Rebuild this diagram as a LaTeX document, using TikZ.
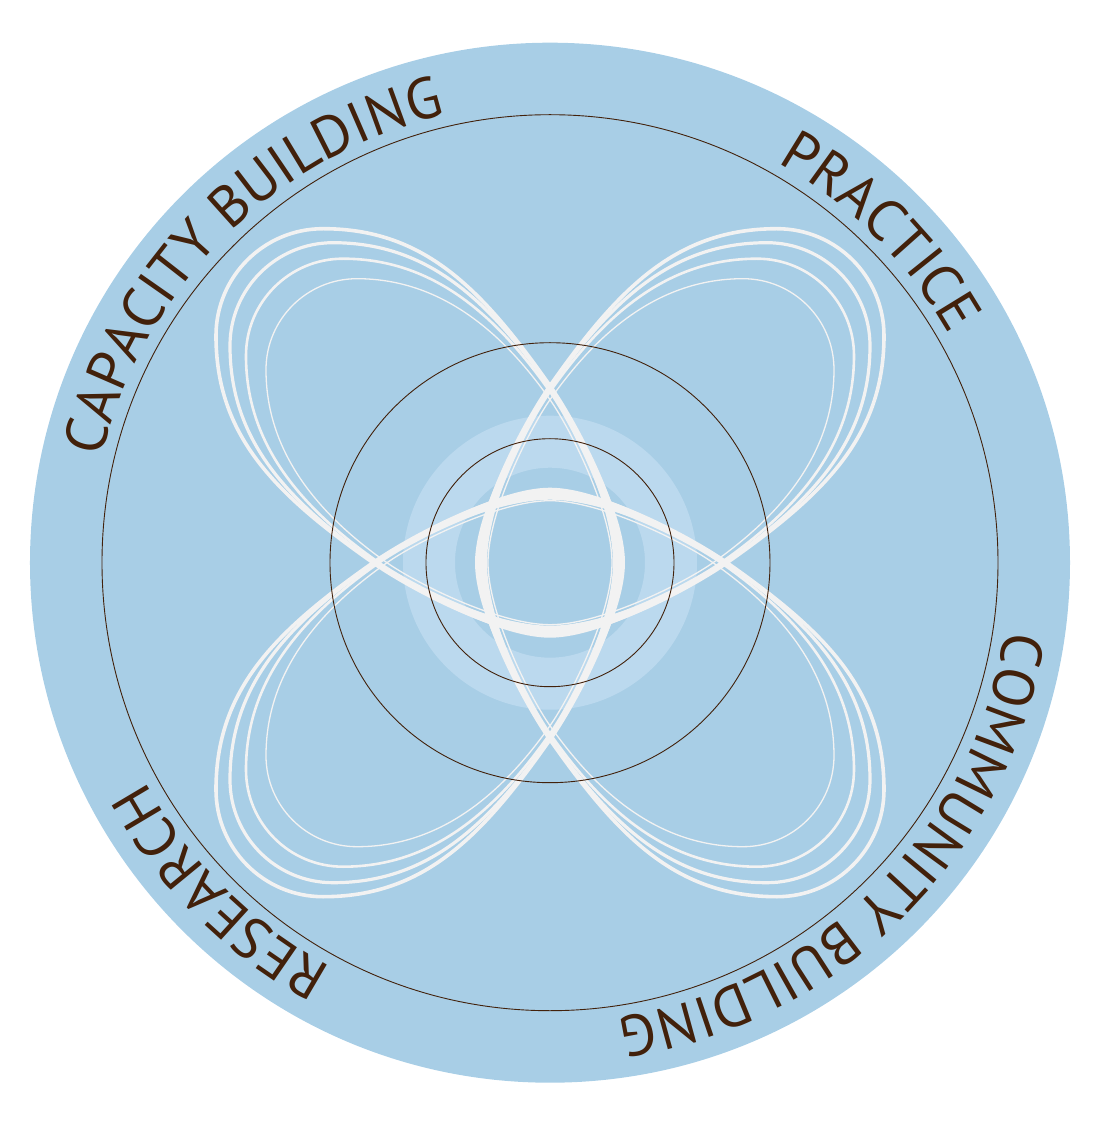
\documentclass[tikz,border=0pt]{standalone}
\usepackage{fontspec}
\setmainfont{PT Sans}
\usetikzlibrary{decorations.text}
\definecolor{bgblue}{HTML}{A8CEE6}
\definecolor{lightblue}{HTML}{BBD9EE}
\definecolor{brownline}{HTML}{42210B}
\definecolor{petal}{HTML}{F2F2F2}
\begin{document}
\begin{tikzpicture}[x=1pt,y=1pt,
  petalline/.style={draw=petal, line cap=round, line join=round},
  ringline/.style={draw=brownline, line width=0.9pt},
  arclabel/.style={decorate, decoration={text along path, text align=center, text color=brownline, text={|\fontsize{58}{60}\selectfont|#1}}}]
\useasboundingbox (-550,-561.3) rectangle (542,562.7);
\fill[bgblue] (0,0) circle[radius=520];
\fill[lightblue, even odd rule] (0,0) circle[radius=147] (0,0) circle[radius=95];
% thick tapered bands of the four central lenses
\foreach \kk in {0,90,180,270}{
  \fill[petal, rotate=-\kk]
    (0,-176) .. controls (22.9,-143.3) and (75,-54.7) .. (75,0)
    .. controls (75,54.7) and (22.9,143.3) .. (0,176)
    .. controls (22.9,143.3) and (63,54.7) .. (63,0)
    .. controls (63,-54.7) and (22.9,-143.3) .. cycle;
}
% four nested copies of the looping curve
\foreach \cc/\rr/\dd/\ww/\lw in {227/107/177/72/3.6, 217/103/175/70/3.2, 207/97/171/66/2.6, 193/91/163/62/1.3}{
  \pgfmathsetmacro\ff{(\cc+\rr-\dd)/157}
  \pgfmathsetmacro\ax{0.574*120*\ff}
  \pgfmathsetmacro\ay{0.819*120*\ff}
  \pgfmathsetmacro\bb{100*\ff}
  \pgfmathsetmacro\sx{0.574*40*\dd/177}
  \pgfmathsetmacro\sy{0.819*40*\dd/177}
  \pgfmathsetmacro\ee{55*\dd/177}
  \foreach \kk in {0,90,180,270}{
    \draw[petalline, line width=\lw pt, rotate=-\kk]
      (0,-\dd) .. controls (\sx,\sy-\dd) and (\ww,-\ee) .. (\ww,0)
      .. controls (\ww,\ee) and (\sx,\dd-\sy) .. (0,\dd)
      .. controls (-\ax,\dd+\ay) and (-\cc+\bb,\cc+\rr) .. (-\cc,\cc+\rr)
      arc[start angle=90, end angle=180, radius=\rr]
      .. controls (-\cc-\rr,\cc-\bb) and (-\dd-\ay,\ax) .. (-\dd,0);
  }
}
\draw[ringline] (0,0) circle[radius=448];
\draw[ringline] (0,0) circle[radius=220];
\draw[ringline] (0,0) circle[radius=124];
\path[arclabel={CAPACITY BUILDING}] (185:460) arc[start angle=185, end angle=85, radius=460];
\path[arclabel={PRACTICE}] (95:460) arc[start angle=95, end angle=-5, radius=460];
\path[arclabel={COMMUNITY BUILDING}] (5:460) arc[start angle=5, end angle=-95, radius=460];
\path[arclabel={RESEARCH}] (275:460) arc[start angle=275, end angle=175, radius=460];
\end{tikzpicture}
\end{document}
